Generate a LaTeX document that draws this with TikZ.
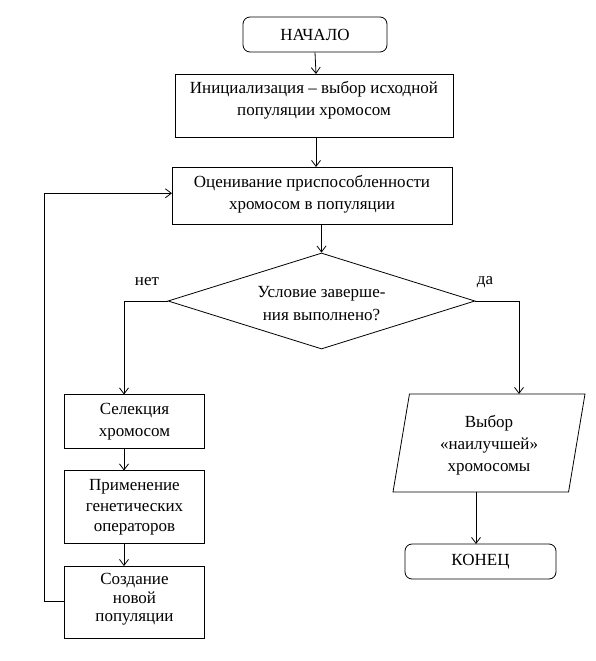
\documentclass[tikz,border=0pt]{standalone}
\usepackage{fontspec}
\setmainfont{Liberation Serif}
\usetikzlibrary{shapes.geometric,arrows.meta,calc}
\newcommand\mylines[3]{\fontsize{17}{#2}\selectfont\raisebox{#1}[\height][\depth]{\begin{tabular}{@{}c@{}}#3\end{tabular}}}
\begin{document}
\begin{tikzpicture}[x=1pt,y=1pt,
  every node/.style={font=\fontsize{17}{22}\selectfont, align=center, inner sep=0pt},
  box/.style={draw, line width=0.8pt, rectangle},
  term/.style={draw, line width=0.8pt, rectangle, rounded corners=7pt},
  arr/.style={line width=0.8pt, -{Straight Barb[length=6pt,width=9pt,line width=0.8pt]}},
  ln/.style={line width=0.8pt}]
\useasboundingbox (0,0) rectangle (595,-661);
\node[term, minimum width=144, minimum height=35] (start) at (315,-34.5) {НАЧАЛО};
\node[box, minimum width=278, minimum height=63] (init) at (314,-105.5) {\mylines{5pt}{22}{Инициализация – выбор исходной\\популяции хромосом}};
\node[box, minimum width=280, minimum height=57] (eval) at (312,-195.5) {\mylines{1.5pt}{22}{Оценивание приспособленности\\хромосом в популяции}};
\node[draw, line width=0.8pt, diamond, aspect=3.2, minimum width=307, minimum height=96] (cond) at (321.5,-301) {\mylines{-3.5pt}{23}{Условие заверше-\\ния выполнено?}};
\node[box, minimum width=140, minimum height=54] (sel) at (134.5,-421.5) {\mylines{0pt}{22}{Селекция\\хромосом}};
\node[box, minimum width=140, minimum height=73] (app) at (134.5,-507) {\mylines{0pt}{20.5}{Применение\\генетических\\операторов}};
\node[box, minimum width=140, minimum height=72] (new) at (134.5,-602) {\mylines{2.5pt}{18.5}{Создание\\новой\\популяции}};
\node[draw, line width=0.8pt, trapezium, trapezium left angle=76, trapezium right angle=104, trapezium stretches body, minimum width=192, minimum height=98] (out) at (489,-443) {\mylines{-2pt}{22}{Выбор\\«наилучшей»\\хромосомы}};
\node[term, minimum width=151, minimum height=35] (end) at (480.5,-561.5) {КОНЕЦ};
\node (no) at (147,-282) {нет};
\node (yes) at (485,-282) {да};
\coordinate (initin) at (316,-74);
\coordinate (evalin) at (316,-167);
\coordinate (selin) at (124,-394.5);
\coordinate (appin) at (124,-470.5);
\coordinate (newin) at (124,-566);
\coordinate (loopx) at (44,-601);
\coordinate (evall) at (172,-193.3);
\coordinate (outin) at (519,-394);
\coordinate (outout) at (476,-492);
\coordinate (endin) at (476,-544);
\draw[arr] (start.south) -- (initin);
\draw[arr] (init.south -| evalin) -- (evalin);
\draw[arr] (eval.south -| cond.north) -- (cond.north);
\draw[arr] (cond.west) -| (selin);
\draw[arr] (sel.south -| appin) -- (appin);
\draw[arr] (app.south -| newin) -- (newin);
\draw[arr] (new.west |- loopx) -- (loopx) |- (evall);
\draw[arr] (cond.east) -| (outin);
\draw[arr] (outout) -- (endin);
\end{tikzpicture}
\end{document}
